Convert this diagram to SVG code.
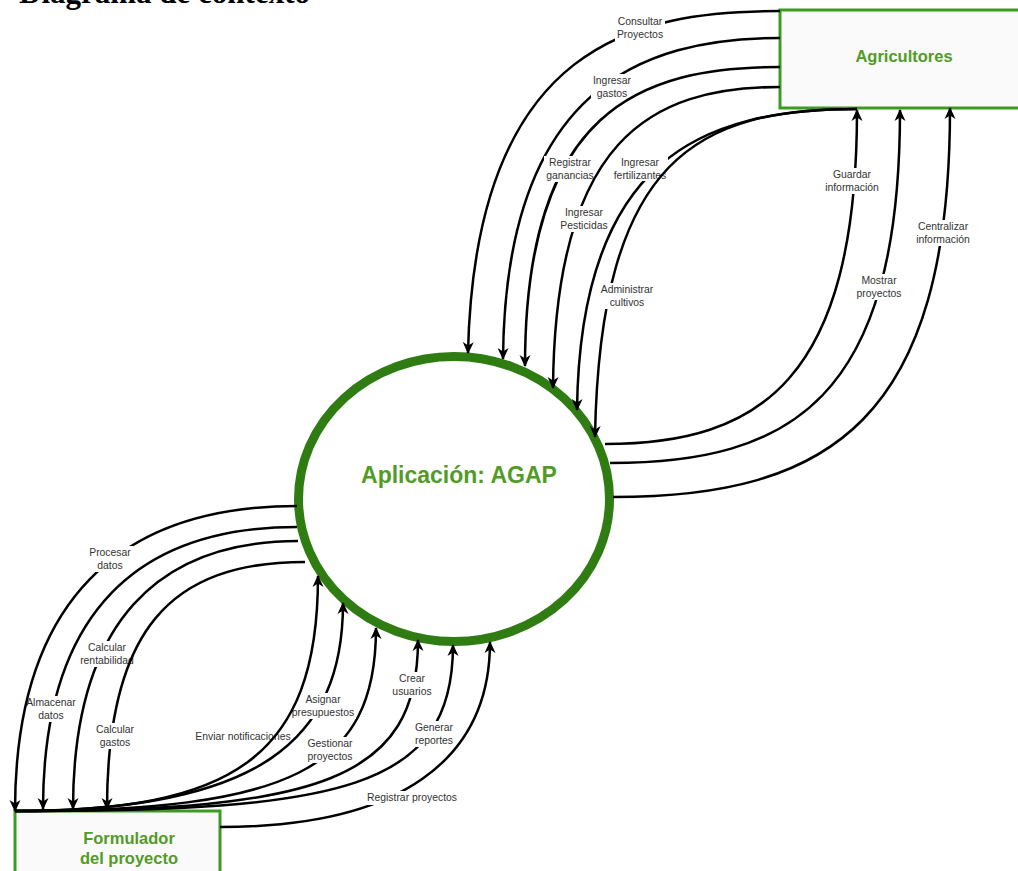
<svg xmlns="http://www.w3.org/2000/svg" width="1018" height="871" viewBox="0 0 1018 871">
  <style>
    .edge { fill: none; stroke: #000; stroke-width: 2.5; marker-end: url(#arrow); }
    .lbl { font-family: "Liberation Sans", Arial, sans-serif; font-size: 10.4px; fill: #333; text-anchor: middle; }
    .bg { fill: #fff; }
    .box { fill: #fafafa; stroke: #3d9b22; stroke-width: 3; }
    .name { font-family: "Liberation Sans", Arial, sans-serif; font-weight: bold; fill: #529b26; text-anchor: middle; }
  </style>
  <defs>
    <marker id="arrow" viewBox="0 0 12 12" refX="11" refY="6" markerWidth="12" markerHeight="12" markerUnits="userSpaceOnUse" orient="auto">
      <path d="M0,0.5 L12,6 L0,11.5 L3.5,6 Z" fill="#000"/>
    </marker>
  </defs>

  <rect width="1018" height="871" fill="#fff"/>

  <!-- heading -->
  <text x="19" y="3" font-family="'Liberation Serif', 'Times New Roman', serif" font-weight="bold" font-size="31" fill="#000">Diagrama de contexto</text>

  <!-- external entity: farmers -->
  <g id="agricultores">
    <rect class="box" x="780" y="10" width="260" height="98"/>
    <text class="name" x="904" y="62" font-size="16.5">Agricultores</text>
  </g>

  <!-- external entity: project formulator -->
  <g id="formulador">
    <rect class="box" x="15" y="811" width="205" height="80"/>
    <text class="name" x="129" y="844" font-size="16.5">Formulador</text>
    <text class="name" x="129" y="864" font-size="16.5">del proyecto</text>
  </g>

  <!-- the system process -->
  <g id="aplicacion">
    <ellipse cx="454" cy="499" rx="155.5" ry="142.5" fill="#fff" stroke="#2f7d12" stroke-width="9"/>
    <text class="name" x="459" y="483" font-size="23">Aplicación: AGAP</text>
  </g>

  <g id="connectors">
    <!-- Agricultores -> Aplicación -->
    <g id="e-consultar">
      <path class="edge" d="M780,11 C640,11 475,40 468,353"/>
      <rect class="bg" x="615" y="15" width="50" height="26"/>
      <text class="lbl" x="640" y="25">Consultar<tspan x="640" dy="12.5">Proyectos</tspan></text>
    </g>
    <g id="e-gastos">
      <path class="edge" d="M780,38 C640,38 505,90 503,359"/>
      <rect class="bg" x="591" y="74" width="42" height="26"/>
      <text class="lbl" x="612" y="84">Ingresar<tspan x="612" dy="12.5">gastos</tspan></text>
    </g>
    <g id="e-ganancias">
      <path class="edge" d="M780,67 C640,67 525,110 525,366"/>
      <rect class="bg" x="544" y="156" width="52" height="26"/>
      <text class="lbl" x="570" y="166">Registrar<tspan x="570" dy="12.5">ganancias</tspan></text>
    </g>
    <g id="e-pesticidas">
      <path class="edge" d="M780,87 C650,87 555,140 553,388"/>
      <rect class="bg" x="558" y="206" width="52" height="26"/>
      <text class="lbl" x="584" y="216">Ingresar<tspan x="584" dy="12.5">Pesticidas</tspan></text>
    </g>
    <g id="e-fertilizantes">
      <path class="edge" d="M857,109 C700,109 580,160 577,410"/>
      <rect class="bg" x="612" y="156" width="56" height="25"/>
      <text class="lbl" x="640" y="166">Ingresar<tspan x="640" dy="12.5">fertilizantes</tspan></text>
    </g>
    <g id="e-cultivos">
      <path class="edge" d="M857,109 C700,109 600,155 595,437"/>
      <rect class="bg" x="599" y="283" width="56" height="26"/>
      <text class="lbl" x="627" y="293">Administrar<tspan x="627" dy="12.5">cultivos</tspan></text>
    </g>

    <!-- Aplicación -> Agricultores -->
    <g id="e-guardar">
      <path class="edge" d="M605,444 C760,444 857,380 857,110"/>
      <rect class="bg" x="823" y="168" width="58" height="26"/>
      <text class="lbl" x="852" y="178">Guardar<tspan x="852" dy="12.5">información</tspan></text>
    </g>
    <g id="e-mostrar">
      <path class="edge" d="M610,463 C790,463 900,400 900,110"/>
      <rect class="bg" x="854" y="274" width="50" height="26"/>
      <text class="lbl" x="879" y="284">Mostrar<tspan x="879" dy="12.5">proyectos</tspan></text>
    </g>
    <g id="e-centralizar">
      <path class="edge" d="M613,497 C830,497 950,420 950,108"/>
      <rect class="bg" x="914" y="220" width="58" height="26"/>
      <text class="lbl" x="943" y="230">Centralizar<tspan x="943" dy="12.5">información</tspan></text>
    </g>

    <!-- Aplicación -> Formulador -->
    <g id="e-rentabilidad">
      <path class="edge" d="M298,541 C160,541 73,620 73,809"/>
      <rect class="bg" x="78" y="641" width="57" height="26"/>
      <text class="lbl" x="107" y="651">Calcular<tspan x="107" dy="12.5">rentabilidad</tspan></text>
    </g>
    <g id="e-calc-gastos">
      <path class="edge" d="M305,562 C170,562 107,630 107,809"/>
      <rect class="bg" x="94" y="723" width="42" height="26"/>
      <text class="lbl" x="115" y="733">Calcular<tspan x="115" dy="12.5">gastos</tspan></text>
    </g>
    <g id="e-almacenar">
      <path class="edge" d="M297,527 C140,527 43,610 43,809"/>
      <rect class="bg" x="28" y="696" width="49" height="26"/>
      <text class="lbl" x="51" y="706">Almacenar<tspan x="51" dy="12.5">datos</tspan></text>
    </g>
    <g id="e-procesar">
      <path class="edge" d="M297,506 C120,506 15,600 15,811"/>
      <rect class="bg" x="87" y="546" width="46" height="26"/>
      <text class="lbl" x="110" y="556">Procesar<tspan x="110" dy="12.5">datos</tspan></text>
    </g>

    <!-- Formulador -> Aplicación -->
    <g id="e-registrar">
      <path class="edge" d="M220,827 C400,827 490,760 490,642"/>
      <rect class="bg" x="365" y="791" width="94" height="14"/>
      <text class="lbl" x="412" y="801">Registrar proyectos</text>
    </g>
    <g id="e-reportes">
      <path class="edge" d="M15,811 C340,811 453,790 453,645"/>
      <rect class="bg" x="413" y="721" width="42" height="26"/>
      <text class="lbl" x="434" y="731">Generar<tspan x="434" dy="12.5">reportes</tspan></text>
    </g>
    <g id="e-usuarios">
      <path class="edge" d="M15,811 C320,811 418,780 418,640"/>
      <rect class="bg" x="390" y="672" width="44" height="26"/>
      <text class="lbl" x="412" y="682">Crear<tspan x="412" dy="12.5">usuarios</tspan></text>
    </g>
    <g id="e-gestionar">
      <path class="edge" d="M15,811 C290,811 376,770 376,628"/>
      <rect class="bg" x="305" y="737" width="50" height="26"/>
      <text class="lbl" x="330" y="747">Gestionar<tspan x="330" dy="12.5">proyectos</tspan></text>
    </g>
    <g id="e-presupuestos">
      <path class="edge" d="M15,811 C260,811 343,740 343,603"/>
      <rect class="bg" x="290" y="693" width="66" height="26"/>
      <text class="lbl" x="323" y="703">Asignar<tspan x="323" dy="12.5">presupuestos</tspan></text>
    </g>
    <g id="e-notificaciones">
      <rect class="bg" x="195" y="730" width="82" height="14"/>
      <text class="lbl" x="243" y="740">Enviar notificaciones</text>
      <path class="edge" d="M15,811 C230,811 318,760 318,576"/>
    </g>
  </g>
</svg>
